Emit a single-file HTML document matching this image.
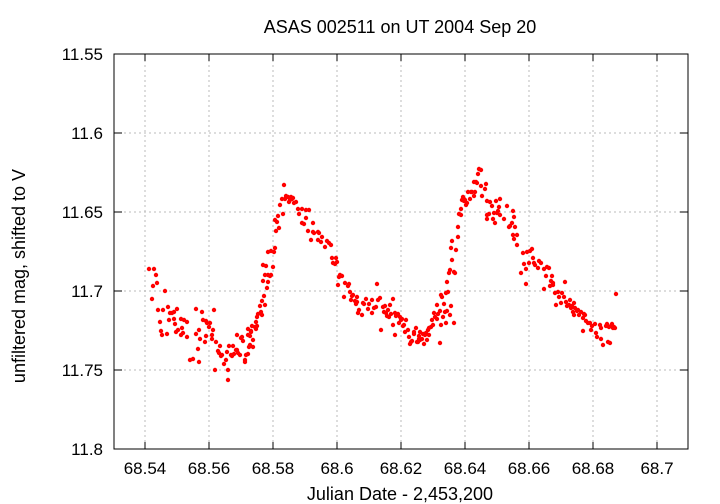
<!DOCTYPE html>
<html><head><meta charset="utf-8"><style>
body{margin:0;background:#fff;}
svg{display:block;font-family:"Liberation Sans",sans-serif;}
</style></head><body>
<svg id="s" width="720" height="504" viewBox="0 0 720 504">
<rect width="720" height="504" fill="#fff"/>
<g stroke="#bbb" stroke-width="1" stroke-dasharray="2,3">
<line x1="145" y1="55" x2="145" y2="449"/><line x1="209" y1="55" x2="209" y2="449"/>
<line x1="273" y1="55" x2="273" y2="449"/><line x1="337" y1="55" x2="337" y2="449"/>
<line x1="401" y1="55" x2="401" y2="449"/><line x1="465" y1="55" x2="465" y2="449"/>
<line x1="529" y1="55" x2="529" y2="449"/><line x1="593" y1="55" x2="593" y2="449"/>
<line x1="657" y1="55" x2="657" y2="449"/>
<line x1="114" y1="133" x2="688" y2="133"/><line x1="114" y1="212" x2="688" y2="212"/>
<line x1="114" y1="291" x2="688" y2="291"/><line x1="114" y1="370" x2="688" y2="370"/>
</g>
<rect x="114" y="54" width="574" height="395" fill="none" stroke="#000" stroke-width="1"/>
<g stroke="#000" stroke-width="1" id="ticks"></g>
<g font-size="17" text-anchor="end" fill="#000">
<text x="103" y="60">11.55</text><text x="103" y="139">11.6</text><text x="103" y="218">11.65</text>
<text x="103" y="297">11.7</text><text x="103" y="376">11.75</text><text x="103" y="455">11.8</text>
</g>
<g font-size="17" text-anchor="middle" fill="#000">
<text x="145" y="474">68.54</text><text x="209" y="474">68.56</text><text x="273" y="474">68.58</text>
<text x="337" y="474">68.6</text><text x="401" y="474">68.62</text><text x="465" y="474">68.64</text>
<text x="529" y="474">68.66</text><text x="593" y="474">68.68</text><text x="657" y="474">68.7</text>
</g>
<g font-size="18" text-anchor="middle" fill="#000">
<text x="400" y="33">ASAS 002511 on UT 2004 Sep 20</text>
<text x="400" y="500">Julian Date - 2,453,200</text>
<text transform="translate(25,276) rotate(-90)">unfiltered mag, shifted to V</text>
</g>
<g id="pts" fill="#f00"></g>
</svg>
<script>
var t=document.getElementById('ticks'),h='';
[145,209,273,337,401,465,529,593,657].forEach(function(x){h+='<line x1="'+x+'" y1="449" x2="'+x+'" y2="442"/><line x1="'+x+'" y1="54" x2="'+x+'" y2="61"/>';});
[54,133,212,291,370,449].forEach(function(y){h+='<line x1="114" y1="'+y+'" x2="122" y2="'+y+'"/><line x1="688" y1="'+y+'" x2="680" y2="'+y+'"/>';});
t.innerHTML=h;
var P=[149,269,154,269,156,275,153,286,157,283,165,291,152,299,158,310,163,310,168,307,160,322,161,331,162,335,167,334,169,320,172,313,170,313,174,312,174,319,175,324,177,309,176,332,178,330,181,319,181,335,182,328,183,333,184,320,187,337,187,322,190,360,193,359,196,309,196,334,198,349,199,362,200,339,199,330,202,312,203,320,205,342,206,336,206,321,207,323,209,327,210,323,212,335,213,330,214,310,212,339,215,370,216,342,218,351,219,353,220,346,221,356,222,355,224,364,226,360,227,352,228,380,229,346,228,370,231,355,232,356,233,346,234,354,236,350,237,350,237,335,238,353,240,355,242,337,241,338,243,341,245,362,245,360,248,329,249,347,250,336,251,331,252,326,253,347,255,327,256,322,258,314,260,306,262,301,263,281,263,265,265,275,266,266,268,275,268,252,271,251,
246,355,248,354,250,345,253,340,248,335,251,332,256,329,257,326,257,317,261,312,262,315,265,305,264,296,267,288,268,282,270,276,271,275,273,267,274,252,275,248,276,231,275,220,277,222,279,228,278,216,280,205,283,214,282,199,284,185,286,196,285,199,288,197,289,202,290,200,291,197,292,199,293,198,294,203,296,202,298,209,299,214,302,209,306,210,309,210,306,218,302,223,304,224,308,231,313,223,311,240,313,232,314,233,318,232,318,240,319,233,321,242,322,237,325,247,327,241,329,243,331,245,332,258,333,263,335,264,336,258,337,262,339,277,338,285,340,275,342,276,344,297,345,283,348,286,349,284,350,292,351,300,352,296,353,295,355,301,356,304,357,302,357,297,358,313,359,310,362,315,363,303,364,304,366,299,368,309,369,304,372,313,372,300,374,308,376,307,377,284,378,300,380,298,381,330,383,307,384,312,385,306,386,313,387,316,389,317,388,310,390,305,391,314,393,299,393,325,395,313,396,316,398,314,399,323,400,317,401,320,402,319,395,335,403,326,404,325,405,332,406,320,408,330,409,337,410,344,411,342,412,341,414,334,414,332,416,328,417,342,418,342,419,336,419,339,420,340,420,332,422,339,423,334,424,344,425,335,426,333,427,340,428,330,429,328,429,335,431,327,432,320,433,325,434,313,435,317,437,319,438,314,437,305,440,311,441,295,442,297,446,293,447,282,448,292,449,273,450,270,452,260,451,248,452,241,
440,343,441,325,443,317,444,304,445,312,446,323,447,311,450,315,451,306,454,323,454,272,455,273,456,250,458,237,458,227,459,214,461,215,461,209,462,200,464,201,463,197,465,200,466,205,467,203,464,199,468,192,470,199,471,192,472,192,474,196,474,182,475,192,476,182,477,183,478,174,479,169,481,170,481,186,482,196,485,189,486,184,487,201,487,219,490,202,489,214,487,215,492,206,493,219,494,213,496,201,495,223,497,213,498,211,499,207,500,215,500,199,504,219,507,206,509,227,510,226,512,223,513,211,514,217,513,235,514,239,515,227,517,235,517,245,521,273,523,253,524,264,526,269,526,284,527,252,529,263,530,251,532,249,533,258,534,263,535,265,538,268,539,261,541,263,544,269,544,289,546,276,547,267,549,268,550,286,551,281,552,276,553,283,553,285,555,293,556,305,558,292,559,297,561,303,562,293,564,297,565,282,566,302,567,306,569,305,570,300,571,308,572,306,573,312,574,315,574,303,575,308,577,311,578,310,579,315,581,312,583,318,584,314,583,331,585,315,586,321,588,323,590,323,591,330,592,326,595,324,596,333,597,337,600,325,601,328,601,339,603,345,606,326,607,324,608,342,609,327,610,343,611,326,612,324,613,328,614,327,616,294,615,328];
var g='';for(var i=0;i<P.length;i+=2)g+='<circle cx="'+P[i]+'" cy="'+P[i+1]+'" r="2.2"/>';
document.getElementById('pts').innerHTML=g;
</script>
</body></html>
